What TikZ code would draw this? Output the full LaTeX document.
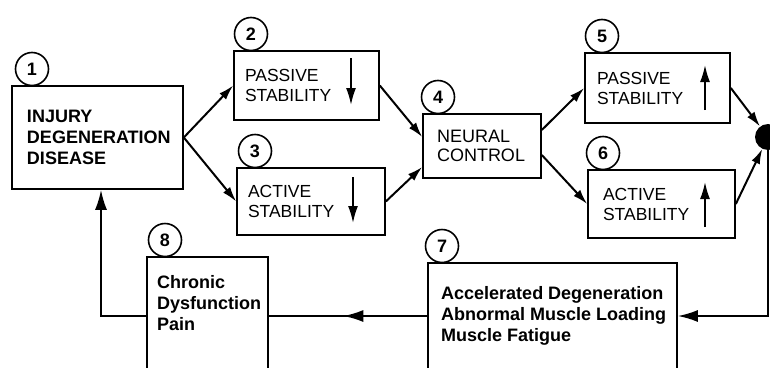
\documentclass[tikz,border=0pt]{standalone}
\usepackage{fontspec}
\setmainfont{Liberation Sans}
\usetikzlibrary{arrows.meta,decorations.markings,calc}

\begin{document}
\begin{tikzpicture}[x=1pt,y=-1pt,
  box/.style={draw,line width=1.6pt,rectangle,inner ysep=0pt,align=left},
  capbox/.style={box,font=\fontsize{17.5}{20}\selectfont},
  boldbox/.style={box,font=\bfseries\fontsize{18}{21}\selectfont},
  plainbox/.style={draw,line width=1.6pt,rectangle,inner sep=0pt},
  boldtext/.style={inner sep=0pt,align=left,font=\bfseries\fontsize{18}{21}\selectfont},
  num/.style={draw,circle,line width=1.6pt,minimum size=33pt,inner sep=0pt,
    font=\bfseries\fontsize{18}{18}\selectfont},
  flow/.style={line width=2pt,-{Latex[length=15pt,width=9pt]}},
  loopline/.style={line width=2pt},
  bighead/.style={-{Latex[length=20pt,width=12pt]}},
  midhead/.style={postaction={decorate},decoration={markings,
    mark=at position 0.53 with {\arrow{Latex[length=20pt,width=12pt]}}}},
  trend/.style={line width=1.8pt,-{Latex[length=17pt,width=10pt]}},
]
\useasboundingbox (0,0) rectangle (770,367);
\fill[white] (0,0) rectangle (770,367);
\clip (0,0) rectangle (770,367);

% boxes
\node[boldbox,minimum width=171pt,minimum height=103pt,text width=141pt,inner xsep=15pt]
  (b1) at (97.5,137.5) {INJURY\\DEGENERATION\\DISEASE};
\node[capbox,minimum width=145pt,minimum height=69pt,text width=123pt,inner xsep=11pt]
  (b2) at (306.5,85.5) {PASSIVE\\STABILITY};
\node[capbox,minimum width=148pt,minimum height=67pt,text width=126pt,inner xsep=11pt]
  (b3) at (311,201.5) {ACTIVE\\STABILITY};
\node[box,font=\fontsize{18}{19}\selectfont,minimum width=118pt,minimum height=64pt,
  text width=90pt,inner xsep=14pt]
  (b4) at (482,146) {NEURAL\\CONTROL};
\node[capbox,minimum width=145pt,minimum height=70pt,text width=121pt,inner xsep=12pt]
  (b5) at (657.5,88) {PASSIVE\\STABILITY};
\node[capbox,minimum width=147pt,minimum height=68pt,text width=117pt,inner xsep=15pt]
  (b6) at (661.5,204) {ACTIVE\\STABILITY};
\node[plainbox,minimum width=249pt,minimum height=137pt] (b7) at (552.5,331.5) {};
\node[boldtext,anchor=west] (t7) at (441,316)
  {Accelerated Degeneration\\Abnormal Muscle Loading\\Muscle Fatigue};
\node[plainbox,minimum width=121pt,minimum height=143pt] (b8) at (207.5,328.5) {};
\node[boldtext,anchor=west] (t8) at (157,303) {Chronic\\Dysfunction\\Pain};

% numbered circles
\node[num] (c1) at (32,69) {1};
\node[num] (c2) at (251,34) {2};
\node[num] (c3) at (255,151) {3};
\node[num] (c4) at (438,97) {4};
\node[num] (c5) at (602,36) {5};
\node[num] (c6) at (603,153) {6};
\node[num] (c7) at (442,246) {7};
\node[num] (c8) at (165,240) {8};

% junction
\node[circle,fill,minimum size=26pt,inner sep=0pt] (dot) at (768,137) {};

% trend arrows inside the stability boxes
\coordinate (d2a) at (351,58);  \coordinate (d2b) at (351,105);
\coordinate (d3a) at (353,177); \coordinate (d3b) at (353,223);
\coordinate (u5a) at (705,110); \coordinate (u5b) at (705,65);
\coordinate (u6a) at (705,227); \coordinate (u6b) at (705,182);
\draw[trend] (d2a) -- (d2b);
\draw[trend] (d3a) -- (d3b);
\draw[trend] (u5a) -- (u5b);
\draw[trend] (u6a) -- (u6b);

% forward flow
\draw[flow] (b1.east) -- (b2.west);
\draw[flow] (b1.east) -- (b3.west);
\draw[flow] (b2.east) -- ([yshift=9pt]b4.west);
\draw[flow] (b3.east) -- ([yshift=-21pt]b4.west);
\draw[flow] ([yshift=16pt]b4.east) -- (b5.west);
\draw[flow] ([yshift=-9pt]b4.east) -- (b6.west);
\draw[flow] (b5.east) -- (dot);
\draw[flow] (b6.east) -- (dot);

% feedback loop
\draw[loopline,bighead] (dot.south) |- (b7.east |- t7.center);
\draw[loopline,midhead] (b7.west |- t7.center) -- (b8.east |- t7.center);
\draw[loopline,bighead] (b8.west |- t7.center) -| ([xshift=3.5pt]b1.south);
\end{tikzpicture}
\end{document}
